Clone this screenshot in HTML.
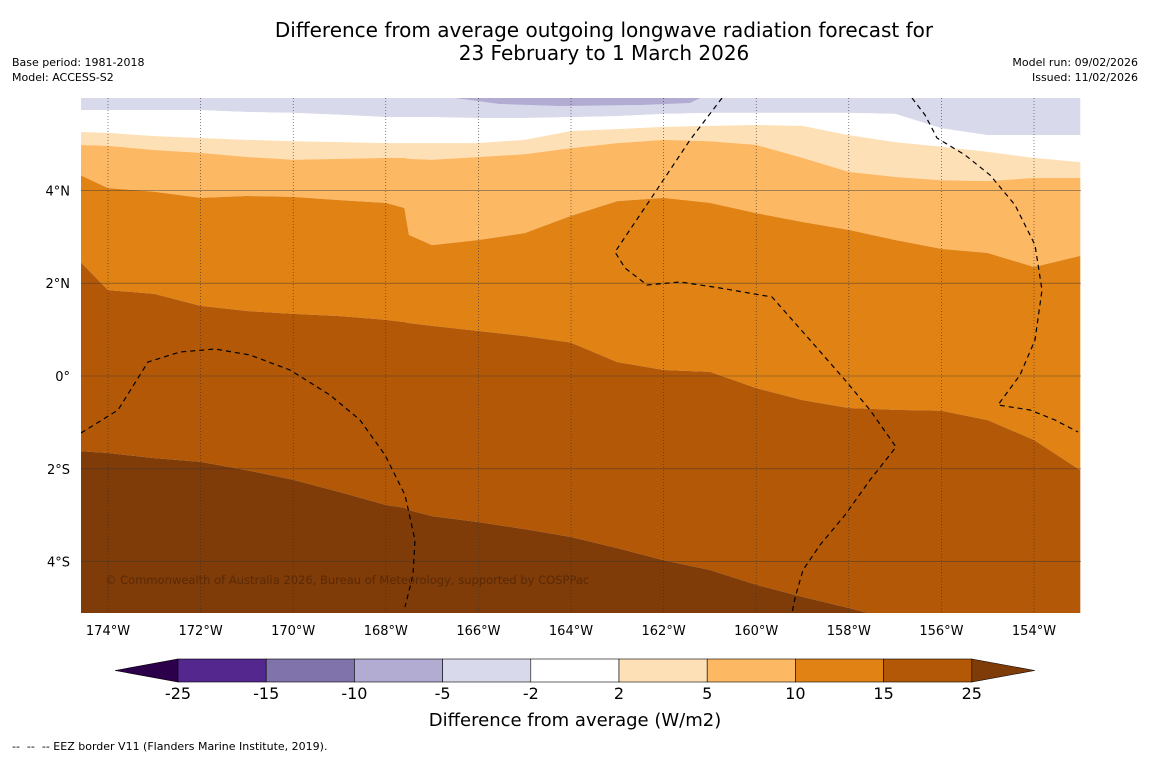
<!DOCTYPE html>
<html><head><meta charset="utf-8"><style>
body{margin:0;background:#fff;font-family:"DejaVu Sans","Liberation Sans",sans-serif;}
#wrap{position:relative;width:1150px;height:758px;overflow:hidden;}
.t{position:absolute;color:#000;}
svg text{font-family:"DejaVu Sans","Liberation Sans",sans-serif;}
</style></head><body>
<div id="wrap">
<div class="t" style="left:0;width:1208px;top:19px;text-align:center;font-size:20px;line-height:23px;">Difference from average outgoing longwave radiation forecast for<br>23 February to 1 March 2026</div>
<div class="t" style="left:12px;top:55px;font-size:11px;line-height:15px;">Base period: 1981-2018<br>Model: ACCESS-S2</div>
<div class="t" style="right:12px;top:55px;font-size:11px;line-height:15px;text-align:right;">Model run: 09/02/2026<br>Issued: 11/02/2026</div>
<div class="t" style="left:12px;top:740px;font-size:11px;">-- &nbsp;-- &nbsp;-- EEZ border V11 (Flanders Marine Institute, 2019).</div>
<svg id="svg" width="1150" height="758" style="position:absolute;left:0;top:0"></svg>
</div>
<script>
const lons=[-174.6,-174,-173,-172,-171,-170,-169,-168,-167.6,-167.5,-167,-166,-165,-164,-163,-162,-161,-160,-159,-158,-157,-156,-155,-154,-153];
const bndA=[5.73,5.73,5.73,5.73,5.69,5.67,5.63,5.58,5.58,5.58,5.58,5.56,5.56,5.58,5.60,5.65,5.67,5.67,5.67,5.67,5.65,5.34,5.19,5.19,5.19];
const bndB=[5.26,5.24,5.17,5.13,5.09,5.06,5.04,5.02,5.02,5.02,5.02,5.02,5.09,5.28,5.32,5.37,5.39,5.41,5.39,5.19,5.04,4.94,4.83,4.70,4.61];
const bndC=[4.98,4.96,4.87,4.81,4.72,4.66,4.68,4.70,4.70,4.68,4.66,4.72,4.78,4.91,5.02,5.09,5.06,4.98,4.70,4.40,4.29,4.22,4.20,4.27,4.27];
const bndD=[4.33,4.05,3.97,3.84,3.88,3.86,3.79,3.73,3.62,3.04,2.82,2.93,3.08,3.45,3.77,3.84,3.73,3.51,3.32,3.15,2.93,2.74,2.65,2.35,2.59];
const bndE=[2.46,1.85,1.77,1.51,1.40,1.34,1.29,1.21,1.16,1.14,1.08,0.97,0.86,0.72,0.30,0.13,0.09,-0.26,-0.52,-0.69,-0.73,-0.75,-0.95,-1.38,-2.03];
const bndF=[-1.62,-1.66,-1.77,-1.85,-2.03,-2.24,-2.50,-2.78,-2.84,-2.89,-3.02,-3.15,-3.30,-3.47,-3.71,-3.97,-4.18,-4.50,-4.76,-5.00,-5.26,-5.26,-5.26,-5.26,-5.26];
const lonTicks=[-174,-172,-170,-168,-166,-164,-162,-160,-158,-156,-154];
const latTicks=[4,2,0,-2,-4];
const cbLevels=["-25","-15","-10","-5","-2","2","5","10","15","25"];
const cbColors=["#54278f","#8073ac","#b2abd2","#d8daeb","#ffffff","#fee0b6","#fdb863","#e08214","#b35806"];
const NS="http://www.w3.org/2000/svg";
const svg=document.getElementById('svg');
const X0=81,X1=1081,Y0=98,Y1=613;
const xs=lon=>108+(lon+174)*46.3;
const ys=lat=>376-lat*46.4;
function mk(tag,attrs,parent){const e=document.createElementNS(NS,tag);for(const k in attrs)e.setAttribute(k,attrs[k]);(parent||svg).appendChild(e);return e;}
const defs=mk('defs',{});const cp=mk('clipPath',{id:'mc'},defs);mk('rect',{x:X0,y:Y0,width:X1-X0,height:Y1-Y0},cp);
const g=mk('g',{'clip-path':'url(#mc)'});


function band(top,bot,color,name){
  const pts=[];
  lons.forEach((l,i)=>pts.push(xs(l)+','+(top?ys(top[i]):Y0-10)));
  for(let i=lons.length-1;i>=0;i--)pts.push(xs(lons[i])+','+(bot?ys(bot[i]):Y1+10));
  const p=mk('polygon',{points:pts.join(' '),fill:color},g);
  
  
}
band(null,bndA,'#d8daeb','band-minus5-minus2');
band(bndA,bndB,'#ffffff','band-minus2-2');
band(bndB,bndC,'#fee0b6','band-2-5');
band(bndC,bndD,'#fdb863','band-5-10');
band(bndD,bndE,'#e08214','band-10-15');
band(bndE,bndF,'#b35806','band-15-25');
band(bndF,null,'#7f3b08','band-above-25');
const blob=mk('path',{d:'M455,98 L700,98 L690,103 L640,105 L560,106 L500,104 Z',fill:'#b2abd2'},g);


lonTicks.forEach(l=>{const ln=mk('line',{x1:xs(l),x2:xs(l),y1:Y0,y2:Y1,stroke:'#333','stroke-width':0.6,'stroke-dasharray':'1,2'},g);


const t=mk('text',{x:xs(l),y:635,'font-size':13,'text-anchor':'middle'});t.textContent=Math.abs(l)+'°W';

});
latTicks.forEach(l=>{const ln=mk('line',{x1:X0,x2:X1,y1:ys(l),y2:ys(l),stroke:'#333','stroke-width':0.6,'stroke-opacity':0.7},g);


const t=mk('text',{x:70,y:ys(l)+5,'font-size':13,'text-anchor':'end'});t.textContent=l===0?'0°':Math.abs(l)+'°'+(l>0?'N':'S');

});
['M81,433 L118,410 L148,362 L180,352 L215,349 L250,355 L290,370 L330,395 L360,420 L385,455 L405,495 L415,540 L413,575 L405,607',
 'M722,98 L690,140 L650,200 L615,252 L625,268 L647,285 L680,282 L720,288 L772,297 L810,340 L845,380 L870,410 L896,447 L870,480 L845,515 L820,545 L803,570 L795,598 L792,613',
 'M912,98 L925,115 L937,138 L965,155 L990,175 L1015,205 L1035,245 L1042,290 L1035,340 L1020,375 L998,405 L1030,410 L1055,420 L1078,432'].forEach(d=>{
 const p=mk('path',{d:d,fill:'none',stroke:'#000','stroke-width':1.2,'stroke-dasharray':'5,4'},g);
 
 });
const cr=mk('text',{x:105,y:584,'font-size':11.5,fill:'#5a2a05'},g);cr.textContent='© Commonwealth of Australia 2026, Bureau of Meteorology, supported by COSPPac';


const cbx0=178,cbw=88.2,cby=659,cbh=23;
const lt=mk('polygon',{points:`115,${cby+cbh/2} ${cbx0},${cby} ${cbx0},${cby+cbh}`,fill:'#2d004b',stroke:'#000','stroke-width':0.6});


cbColors.forEach((c,i)=>{const r=mk('rect',{x:cbx0+i*cbw,y:cby,width:cbw,height:cbh,fill:c,stroke:'#000','stroke-width':0.6});

});
const xe=cbx0+cbColors.length*cbw;
const rt=mk('polygon',{points:`${xe},${cby} ${xe+63},${cby+cbh/2} ${xe},${cby+cbh}`,fill:'#7f3b08',stroke:'#000','stroke-width':0.6});


cbLevels.forEach((v,i)=>{const t=mk('text',{x:cbx0+i*cbw,y:699,'font-size':16,'text-anchor':'middle'});t.textContent=v;

});
const ct=mk('text',{x:575,y:726,'font-size':18,'text-anchor':'middle'});ct.textContent='Difference from average (W/m2)';


</script>
</body></html>
